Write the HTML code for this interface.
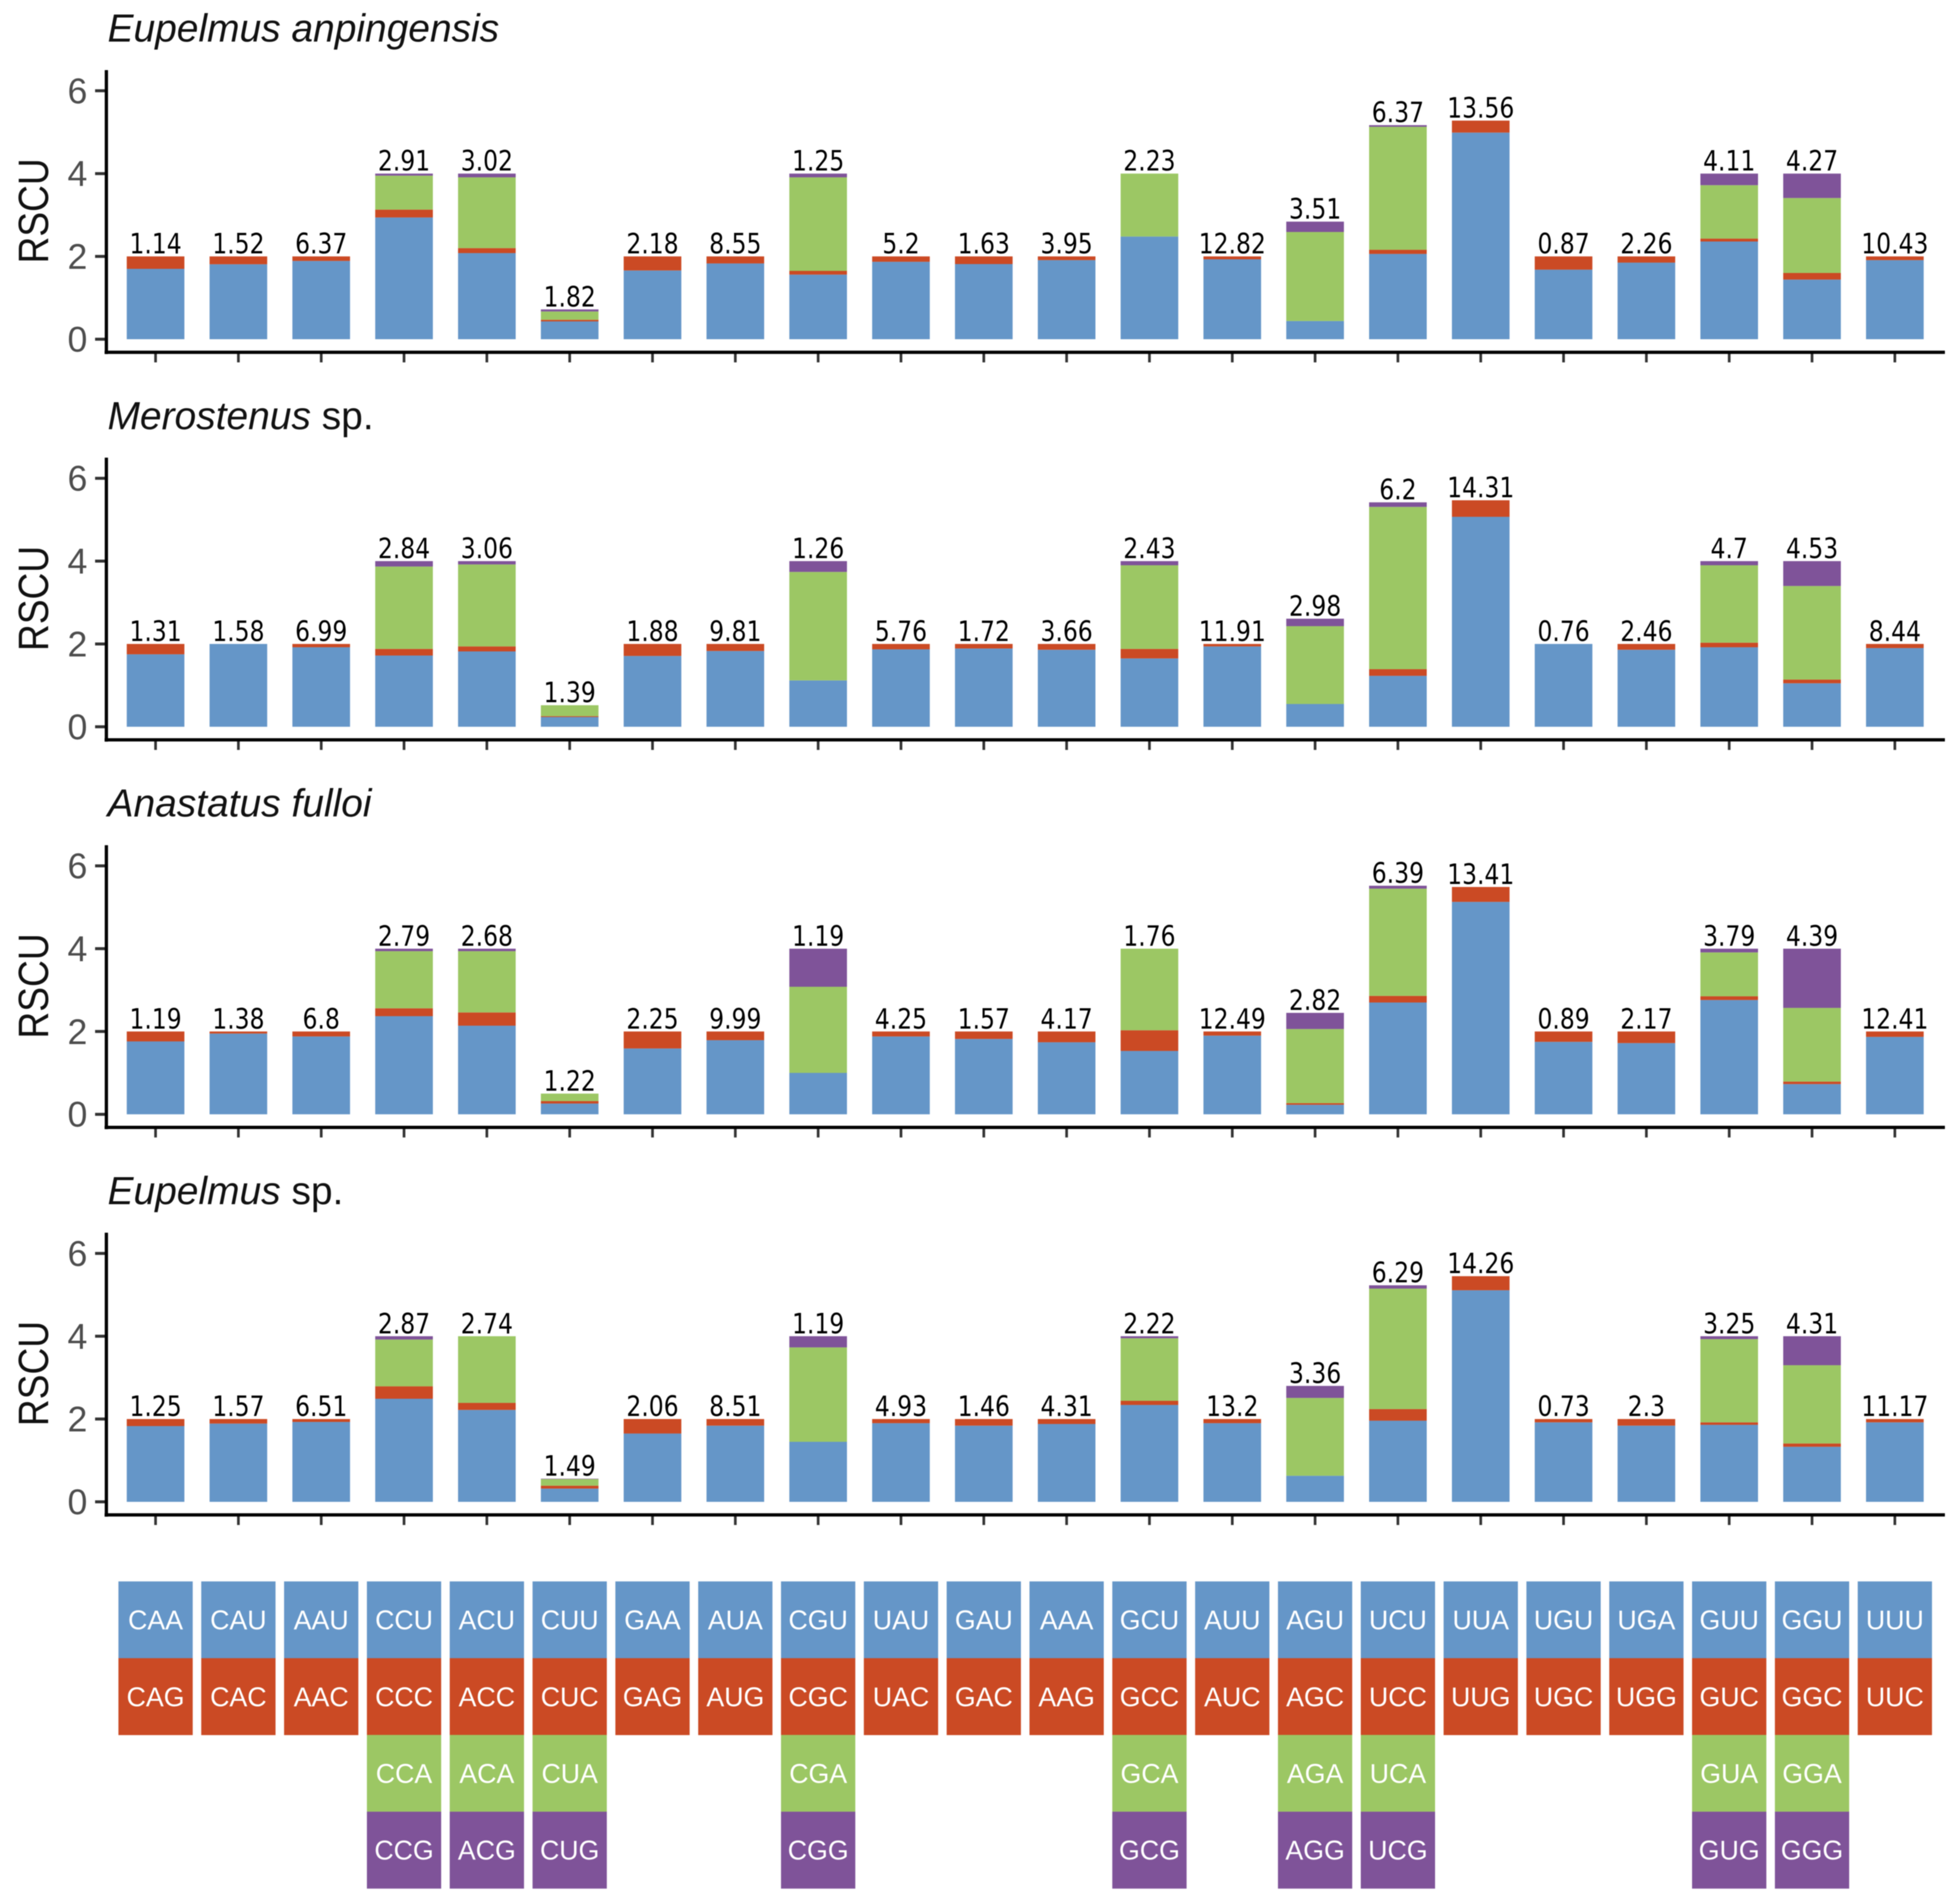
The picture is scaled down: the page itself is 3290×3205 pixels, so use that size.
<!DOCTYPE html>
<html lang="en">
<head>
<meta charset="utf-8">
<title>RSCU of four species</title>
<style>
html,body{margin:0;padding:0;background:#fff;}
body{width:3290px;height:3205px;overflow:hidden;}
svg{display:block;filter:blur(0.9px);}
text{font-family:"Liberation Sans",sans-serif;}
.val{font-family:"DejaVu Sans",sans-serif;font-size:47px;fill:#000;text-anchor:middle;}
.tick{font-size:60px;fill:#4d4d4d;text-anchor:end;}
.ytitle{font-size:62.5px;fill:#111;text-anchor:middle;}
.title{font-size:65.5px;fill:#111;}
.codon{font-size:45px;fill:#fff;text-anchor:middle;}
</style>
</head>
<body>
<svg id="chart" xmlns="http://www.w3.org/2000/svg" width="3290" height="3205" viewBox="0 0 3290 3205"></svg>
<script>
const speciesItalic = ["Eupelmus anpingensis", "Merostenus", "Anastatus fulloi", "Eupelmus"];
const speciesSuffix = ["", " sp.", "", " sp."];
const yTicks = [0, 2, 4, 6];

const codonsBlue = ["CAA","CAU","AAU","CCU","ACU","CUU","GAA","AUA","CGU","UAU","GAU","AAA","GCU","AUU","AGU","UCU","UUA","UGU","UGA","GUU","GGU","UUU"];
const codonsRed = ["CAG","CAC","AAC","CCC","ACC","CUC","GAG","AUG","CGC","UAC","GAC","AAG","GCC","AUC","AGC","UCC","UUG","UGC","UGG","GUC","GGC","UUC"];
const codonsGreen = ["","","","CCA","ACA","CUA","","","CGA","","","","GCA","","AGA","UCA","","","","GUA","GGA",""];
const codonsPurple = ["","","","CCG","ACG","CUG","","","CGG","","","","GCG","","AGG","UCG","","","","GUG","GGG",""];

const p1Labels = ["1.14","1.52","6.37","2.91","3.02","1.82","2.18","8.55","1.25","5.2","1.63","3.95","2.23","12.82","3.51","6.37","13.56","0.87","2.26","4.11","4.27","10.43"];
const p1Blue = [1.70,1.81,1.89,2.94,2.08,0.43,1.66,1.83,1.56,1.87,1.815,1.91,2.48,1.93,0.44,2.06,4.99,1.68,1.85,2.36,1.44,1.91];
const p1Red = [0.30,0.19,0.11,0.19,0.12,0.04,0.34,0.17,0.09,0.13,0.185,0.09,0,0.07,0,0.10,0.29,0.32,0.15,0.07,0.16,0.09];
const p1Green = [0,0,0,0.82,1.71,0.20,0,0,2.26,0,0,0,1.52,0,2.15,2.97,0,0,0,1.29,1.81,0];
const p1Purple = [0,0,0,0.05,0.09,0.05,0,0,0.09,0,0,0,0,0,0.25,0.04,0,0,0,0.28,0.59,0];

const p2Labels = ["1.31","1.58","6.99","2.84","3.06","1.39","1.88","9.81","1.26","5.76","1.72","3.66","2.43","11.91","2.98","6.2","14.31","0.76","2.46","4.7","4.53","8.44"];
const p2Blue = [1.75,2.0,1.92,1.72,1.82,0.235,1.71,1.83,1.12,1.87,1.89,1.86,1.65,1.94,0.55,1.23,5.07,2.0,1.86,1.92,1.05,1.90];
const p2Red = [0.25,0,0.08,0.16,0.12,0.02,0.29,0.17,0,0.13,0.11,0.14,0.23,0.06,0,0.16,0.40,0,0.14,0.11,0.09,0.10];
const p2Green = [0,0,0,1.99,1.98,0.265,0,0,2.62,0,0,0,2.02,0,1.88,3.92,0,0,0,1.87,2.26,0];
const p2Purple = [0,0,0,0.13,0.08,0,0,0,0.26,0,0,0,0.10,0,0.18,0.11,0,0,0,0.10,0.60,0];

const p3Labels = ["1.19","1.38","6.8","2.79","2.68","1.22","2.25","9.99","1.19","4.25","1.57","4.17","1.76","12.49","2.82","6.39","13.41","0.89","2.17","3.79","4.39","12.41"];
const p3Blue = [1.76,1.95,1.88,2.37,2.14,0.26,1.59,1.79,1.0,1.88,1.82,1.74,1.53,1.90,0.23,2.70,5.13,1.75,1.72,2.76,0.73,1.87];
const p3Red = [0.24,0.05,0.12,0.19,0.32,0.06,0.41,0.21,0,0.12,0.18,0.26,0.50,0.10,0.04,0.16,0.36,0.25,0.28,0.09,0.06,0.13];
const p3Green = [0,0,0,1.38,1.48,0.18,0,0,2.08,0,0,0,1.97,0,1.79,2.59,0,0,0,1.06,1.78,0];
const p3Purple = [0,0,0,0.06,0.06,0,0,0,0.92,0,0,0,0,0,0.39,0.07,0,0,0,0.09,1.43,0];

const p4Labels = ["1.25","1.57","6.51","2.87","2.74","1.49","2.06","8.51","1.19","4.93","1.46","4.31","2.22","13.2","3.36","6.29","14.26","0.73","2.3","3.25","4.31","11.17"];
const p4Blue = [1.83,1.89,1.93,2.49,2.22,0.32,1.65,1.84,1.45,1.90,1.84,1.88,2.34,1.90,0.63,1.96,5.11,1.92,1.84,1.86,1.33,1.92];
const p4Red = [0.17,0.11,0.07,0.30,0.17,0.07,0.35,0.16,0,0.10,0.16,0.12,0.10,0.10,0,0.28,0.34,0.08,0.16,0.06,0.08,0.08];
const p4Green = [0,0,0,1.13,1.61,0.16,0,0,2.28,0,0,0,1.51,0,1.88,2.91,0,0,0,2.01,1.89,0];
const p4Purple = [0,0,0,0.08,0,0.01,0,0,0.27,0,0,0,0.05,0,0.29,0.08,0,0,0,0.07,0.70,0];

const panelLabels = [p1Labels, p2Labels, p3Labels, p4Labels];
const panelSeries = [
  [p1Blue, p1Red, p1Green, p1Purple],
  [p2Blue, p2Red, p2Green, p2Purple],
  [p3Blue, p3Red, p3Green, p3Purple],
  [p4Blue, p4Red, p4Green, p4Purple]
];
const seriesNames = ["blue", "red", "green", "purple"];
const seriesColors = ["#6596c8", "#cb4a24", "#9cc764", "#7f5399"];
const tileRows = [codonsBlue, codonsRed, codonsGreen, codonsPurple];

const NS = "http://www.w3.org/2000/svg";
const svg = document.getElementById("chart");
const BAR_W = 97, TILE_W = 125, TILE_H = 129.2, TILE_TOP = 2662;
const xScale = i => 261.8 + i * 139.38;
const panelBase = p => 571 + p * 652.35;
const yScale = (p, v) => panelBase(p) - v * 69.7;

function mk(tag, attrs, parent) {
  const e = document.createElementNS(NS, tag);
  for (const k in attrs) e.setAttribute(k, attrs[k]);
  parent.appendChild(e);
  return e;
}

panelSeries.forEach((series, p) => {
  const g = mk("g", {}, svg);
  
  
  const base = panelBase(p);

  const title = mk("text", {class: "title", x: 181, y: base - 501}, g);
  
  
  const it = mk("tspan", {"font-style": "italic"}, title);
  it.textContent = speciesItalic[p];
  if (speciesSuffix[p]) {
    const rest = mk("tspan", {}, title);
    rest.textContent = "\u00a0" + speciesSuffix[p].trim();
  }

  const yTitle = mk("text", {class: "ytitle", transform: "translate(81," + (base - 216) + ") rotate(-90) scale(1,1.14)"}, g);
  
  
  yTitle.textContent = "RSCU";

  yTicks.forEach(t => {
    const y = yScale(p, t);
    const tick = mk("line", {x1: 160, x2: 178, y1: y, y2: y, stroke: "#333", "stroke-width": 5}, g);
    
    
    const lab = mk("text", {class: "tick", x: 147, y: y + 21}, g);
    
    
    lab.textContent = t;
  });

  series[0].forEach((_, i) => {
    const bar = mk("g", {}, g);
    
    
    let cum = 0;
    series.forEach((s, k) => {
      const v = s[i];
      if (v > 0) {
        const r = mk("rect", {
          x: xScale(i) - BAR_W / 2,
          y: yScale(p, cum + v),
          width: BAR_W,
          height: yScale(p, cum) - yScale(p, cum + v),
          fill: seriesColors[k]
        }, bar);
        
        
      }
      cum += v;
    });
    const val = mk("text", {class: "val", transform: "translate(" + xScale(i) + "," + (yScale(p, cum) - 5) + ") scale(0.84,1)"}, bar);
    
    
    val.textContent = panelLabels[p][i];

    const xt = mk("line", {x1: xScale(i), x2: xScale(i), y1: base + 24, y2: base + 39, stroke: "#333", "stroke-width": 4.5}, g);
    
    
  });

  const ya = mk("line", {x1: 179, x2: 179, y1: base - 453, y2: base + 25, stroke: "#000", "stroke-width": 5.5}, g);
  
  
  const xa = mk("line", {x1: 176, x2: 3273, y1: base + 22, y2: base + 22, stroke: "#000", "stroke-width": 5.5}, g);
  
  
});

const key = mk("g", {}, svg);


tileRows.forEach((row, r) => {
  row.forEach((codon, i) => {
    if (!codon) return;
    const y = TILE_TOP + r * TILE_H;
    const tile = mk("rect", {x: xScale(i) - TILE_W / 2, y: y, width: TILE_W, height: TILE_H + 0.3, fill: seriesColors[r]}, key);
    
    
    const t = mk("text", {class: "codon", x: xScale(i), y: y + TILE_H / 2 + 16}, key);
    
    
    t.textContent = codon;
  });
});
</script>
</body>
</html>
